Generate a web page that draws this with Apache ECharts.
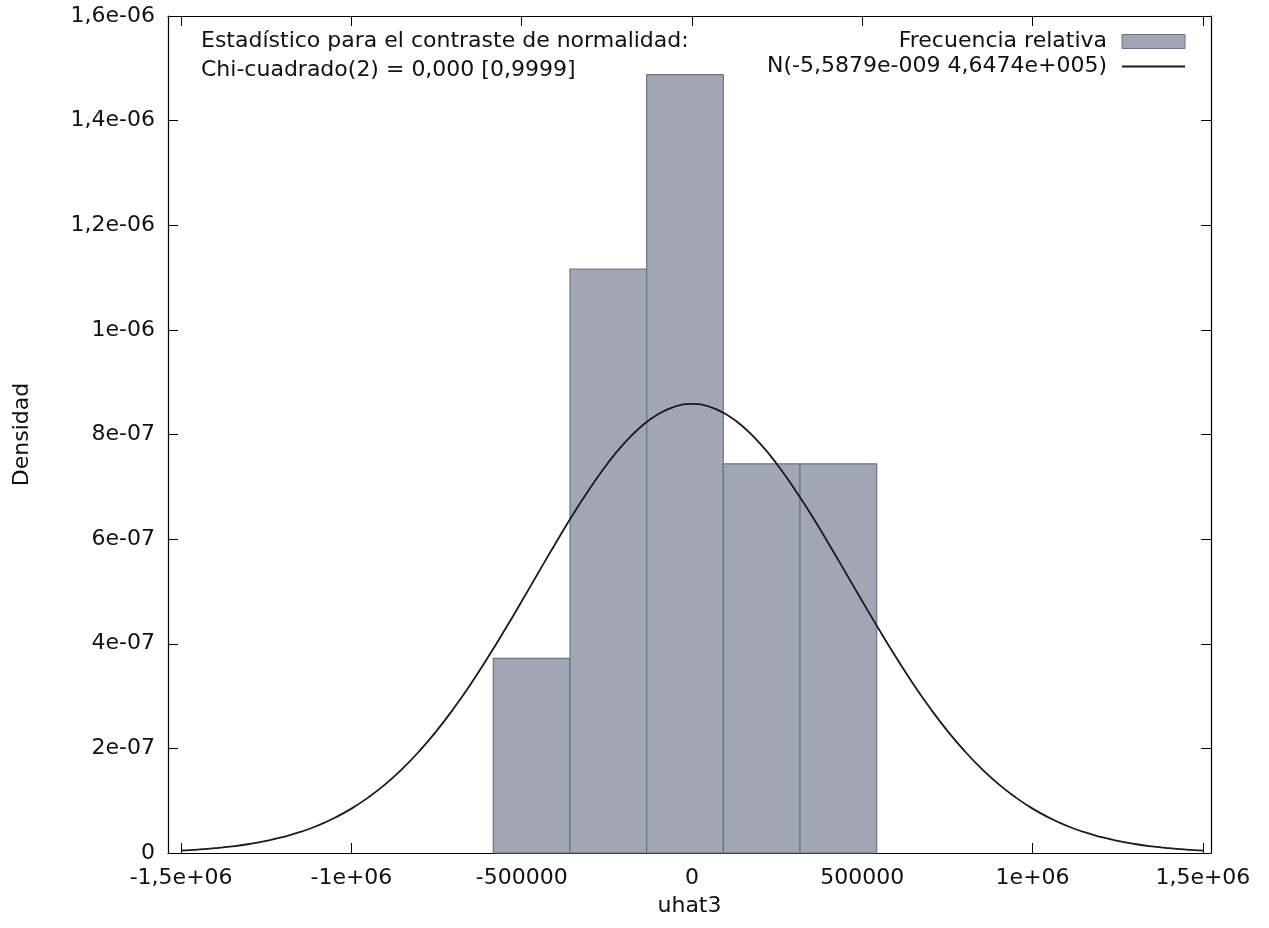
<!DOCTYPE html>
<html>
<head>
<meta charset="utf-8">
<script src="https://cdn.jsdelivr.net/npm/echarts@6/dist/echarts.min.js"></script>
<style>
html, body { margin: 0; padding: 0; background: #fff; }
#chart { width: 1269px; height: 928px; }
</style>
</head>
<body>
<div id="chart"></div>
<script>
// histograma: bordes de cada clase y su densidad
const binStart = [-583400, -358200, -133000, 91900, 317100];
const binEnd = [-358200, -133000, 91900, 317100, 542300];
const density = [3.72e-7, 1.116e-6, 1.488e-6, 7.44e-7, 7.44e-7];

// curva normal, puntos
const curveX = [-1500000, -1450000, -1400000, -1350000, -1300000, -1250000, -1200000, -1150000,
  -1100000, -1050000, -1000000, -950000, -900000, -850000, -800000, -750000,
  -700000, -650000, -600000, -550000, -500000, -450000, -400000, -350000,
  -300000, -250000, -200000, -150000, -100000, -50000, 0,
  50000, 100000, 150000, 200000, 250000, 300000, 350000, 400000,
  450000, 500000, 550000, 600000, 650000, 700000, 750000, 800000,
  850000, 900000, 950000, 1000000, 1050000, 1100000, 1150000, 1200000,
  1250000, 1300000, 1350000, 1400000, 1450000, 1500000];
const curveY = [4.7e-9, 6.6e-9, 9.2e-9, 1.26e-8, 1.72e-8, 2.31e-8, 3.06e-8, 4.02e-8,
  5.21e-8, 6.69e-8, 8.48e-8, 1.063e-7, 1.316e-7, 1.612e-7, 1.951e-7, 2.334e-7,
  2.761e-7, 3.228e-7, 3.731e-7, 4.262e-7, 4.812e-7, 5.372e-7, 5.927e-7, 6.465e-7,
  6.970e-7, 7.428e-7, 7.825e-7, 8.148e-7, 8.387e-7, 8.534e-7, 8.584e-7,
  8.534e-7, 8.387e-7, 8.148e-7, 7.825e-7, 7.428e-7, 6.970e-7, 6.465e-7, 5.927e-7,
  5.372e-7, 4.812e-7, 4.262e-7, 3.731e-7, 3.228e-7, 2.761e-7, 2.334e-7, 1.951e-7,
  1.612e-7, 1.316e-7, 1.063e-7, 8.48e-8, 6.69e-8, 5.21e-8, 4.02e-8, 3.06e-8,
  2.31e-8, 1.72e-8, 1.26e-8, 9.2e-9, 6.6e-9, 4.7e-9];

// marcas de los ejes
const xTicks = [-1500000, -1000000, -500000, 0, 500000, 1000000, 1500000];
const xTickLabels = ["-1,5e+06", "-1e+06", "-500000", "0", "500000", "1e+06", "1,5e+06"];
const yTicks = [0, 2e-7, 4e-7, 6e-7, 8e-7, 1e-6, 1.2e-6, 1.4e-6, 1.6e-6];
const yTickLabels = ["0", "2e-07", "4e-07", "6e-07", "8e-07", "1e-06", "1,2e-06", "1,4e-06", "1,6e-06"];

const histName = "Frecuencia relativa";
const normName = "N(-5,5879e-009 4,6474e+005)";

const FONT = "DejaVu Sans";
const FS = 22;

function nearestLabel(ticks, labels, v) {
  let best = 0;
  for (let i = 1; i < ticks.length; i++) {
    if (Math.abs(ticks[i] - v) < Math.abs(ticks[best] - v)) best = i;
  }
  return labels[best];
}

const histData = binStart.map((s, i) => [s, binEnd[i], density[i]]);
const curveData = curveX.map((x, i) => [x, curveY[i]]);

const chart = echarts.init(document.getElementById("chart"));

const xMin = -1538500, xMax = 1523800;

const tickStyle = { show: true, inside: true, length: 10, lineStyle: { color: "#000", width: 1 } };
const lineAxis = { show: true, onZero: false, lineStyle: { color: "#000", width: 1.2 } };

chart.setOption({
  animation: false,
  textStyle: { fontFamily: FONT },
  grid: {
    left: 168, right: 58, top: 16, bottom: 75,
    containLabel: false,
    outerBoundsMode: "none"
  },
  legend: {
    orient: "vertical",
    right: 78,
    top: 24,
    align: "right",
    itemWidth: 63,
    itemHeight: 14,
    itemGap: 0,
    textStyle: { fontFamily: FONT, fontSize: FS, color: "#111", lineHeight: 25, padding: [0, 10, 0, 0] },
    data: [
      { name: histName, icon: "rect", itemStyle: { color: "#a0a6b4", borderColor: "#6b7489", borderWidth: 1 } },
      { name: normName, itemStyle: { color: "transparent", borderColor: "transparent", borderWidth: 0 } }
    ]
  },
  graphic: [{
    type: "text",
    left: 201,
    top: 27,
    style: {
      text: "Estadístico para el contraste de normalidad:\nChi-cuadrado(2) = 0,000 [0,9999]",
      font: FS + "px '" + FONT + "'",
      lineHeight: 29,
      fill: "#111"
    }
  }],
  xAxis: [{
    type: "value",
    position: "bottom",
    min: xMin, max: xMax,
    name: "uhat3",
    nameLocation: "middle",
    nameGap: 42,
    nameTextStyle: { fontFamily: FONT, fontSize: FS, color: "#111" },
    axisLine: lineAxis,
    axisTick: Object.assign({ customValues: xTicks }, tickStyle),
    axisLabel: {
      customValues: xTicks,
      margin: 14,
      fontFamily: FONT, fontSize: FS, color: "#111",
      formatter: v => nearestLabel(xTicks, xTickLabels, v)
    },
    splitLine: { show: false }
  }, {
    type: "value",
    position: "top",
    min: xMin, max: xMax,
    axisLine: lineAxis,
    axisTick: Object.assign({ customValues: xTicks }, tickStyle),
    axisLabel: { show: false },
    splitLine: { show: false }
  }],
  yAxis: [{
    type: "value",
    position: "left",
    min: 0, max: 1.6e-6,
    name: "Densidad",
    nameLocation: "middle",
    nameGap: 135,
    nameRotate: 90,
    nameTextStyle: { fontFamily: FONT, fontSize: FS, color: "#111" },
    axisLine: lineAxis,
    axisTick: Object.assign({ customValues: yTicks }, tickStyle),
    axisLabel: {
      customValues: yTicks,
      margin: 13,
      fontFamily: FONT, fontSize: FS, color: "#111",
      formatter: v => nearestLabel(yTicks, yTickLabels, v)
    },
    splitLine: { show: false }
  }, {
    type: "value",
    position: "right",
    min: 0, max: 1.6e-6,
    axisLine: lineAxis,
    axisTick: Object.assign({ customValues: yTicks }, tickStyle),
    axisLabel: { show: false },
    splitLine: { show: false }
  }],
  series: [{
    name: histName,
    type: "custom",
    xAxisIndex: 0,
    yAxisIndex: 0,
    itemStyle: { color: "#a0a6b4", borderColor: "#6b7489", borderWidth: 1 },
    encode: { x: [0, 1], y: 2 },
    data: histData,
    renderItem: function (params, api) {
      const p0 = api.coord([api.value(0), api.value(2)]);
      const p1 = api.coord([api.value(1), 0]);
      return {
        type: "rect",
        shape: { x: p0[0], y: p0[1], width: p1[0] - p0[0], height: p1[1] - p0[1] },
        style: { fill: "#a0a6b4", stroke: "#6b7489", lineWidth: 1.2 }
      };
    }
  }, {
    name: normName,
    type: "line",
    xAxisIndex: 0,
    yAxisIndex: 0,
    data: curveData,
    smooth: true,
    symbol: "none",
    lineStyle: { color: "#1a1a1a", width: 1.8 },
    itemStyle: { color: "#1a1a1a" },
    z: 3
  }]
});
</script>
</body>
</html>
